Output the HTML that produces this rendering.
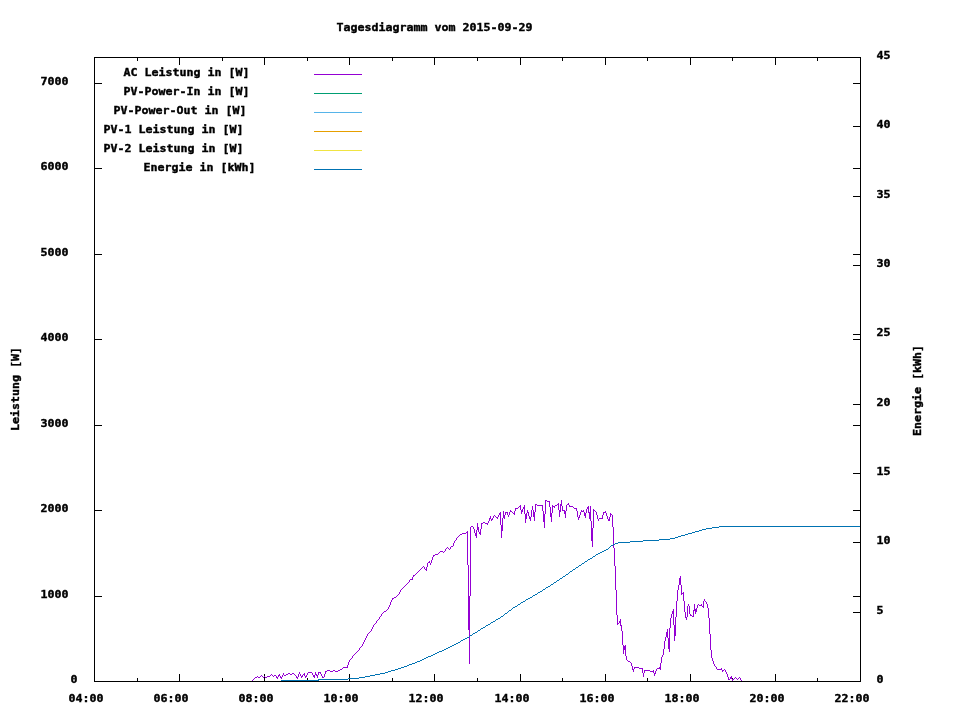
<!DOCTYPE html>
<html lang="de"><head><meta charset="utf-8"><title>Tagesdiagramm vom 2015-09-29</title>
<style>
html,body{margin:0;padding:0;background:#fff;}
body{width:960px;height:720px;overflow:hidden;}
svg{display:block;will-change:transform;}
text{font-family:"DejaVu Sans Mono", "Liberation Mono", monospace;font-weight:bold;font-size:11px;fill:#000;stroke:#000;stroke-width:0.4px;stroke-linejoin:miter;}
.ax{stroke:#000;stroke-width:1;fill:none;shape-rendering:crispEdges;}
.ln{stroke-width:1;fill:none;shape-rendering:crispEdges;stroke-linejoin:miter;}
</style></head><body>
<svg width="960" height="720" viewBox="0 0 960 720">
<rect x="0" y="0" width="960" height="720" fill="#ffffff"/>
<text x="336.6" y="31" textLength="196" lengthAdjust="spacingAndGlyphs">Tagesdiagramm vom 2015-09-29</text>
<text x="70.6" y="683" textLength="7" lengthAdjust="spacingAndGlyphs">0</text>
<text x="40.6" y="598" textLength="28" lengthAdjust="spacingAndGlyphs">1000</text>
<text x="40.6" y="512" textLength="28" lengthAdjust="spacingAndGlyphs">2000</text>
<text x="40.6" y="427" textLength="28" lengthAdjust="spacingAndGlyphs">3000</text>
<text x="40.6" y="341" textLength="28" lengthAdjust="spacingAndGlyphs">4000</text>
<text x="40.6" y="256" textLength="28" lengthAdjust="spacingAndGlyphs">5000</text>
<text x="40.6" y="170" textLength="28" lengthAdjust="spacingAndGlyphs">6000</text>
<text x="40.6" y="85" textLength="28" lengthAdjust="spacingAndGlyphs">7000</text>
<text x="876.6" y="683" textLength="7" lengthAdjust="spacingAndGlyphs">0</text>
<text x="876.6" y="614" textLength="7" lengthAdjust="spacingAndGlyphs">5</text>
<text x="876.6" y="544" textLength="14" lengthAdjust="spacingAndGlyphs">10</text>
<text x="876.6" y="475" textLength="14" lengthAdjust="spacingAndGlyphs">15</text>
<text x="876.6" y="406" textLength="14" lengthAdjust="spacingAndGlyphs">20</text>
<text x="876.6" y="336" textLength="14" lengthAdjust="spacingAndGlyphs">25</text>
<text x="876.6" y="267" textLength="14" lengthAdjust="spacingAndGlyphs">30</text>
<text x="876.6" y="198" textLength="14" lengthAdjust="spacingAndGlyphs">35</text>
<text x="876.6" y="128" textLength="14" lengthAdjust="spacingAndGlyphs">40</text>
<text x="876.6" y="59" textLength="14" lengthAdjust="spacingAndGlyphs">45</text>
<text x="68.6" y="702" textLength="35" lengthAdjust="spacingAndGlyphs">04:00</text>
<text x="153.6" y="702" textLength="35" lengthAdjust="spacingAndGlyphs">06:00</text>
<text x="238.6" y="702" textLength="35" lengthAdjust="spacingAndGlyphs">08:00</text>
<text x="323.6" y="702" textLength="35" lengthAdjust="spacingAndGlyphs">10:00</text>
<text x="408.6" y="702" textLength="35" lengthAdjust="spacingAndGlyphs">12:00</text>
<text x="494.6" y="702" textLength="35" lengthAdjust="spacingAndGlyphs">14:00</text>
<text x="579.6" y="702" textLength="35" lengthAdjust="spacingAndGlyphs">16:00</text>
<text x="664.6" y="702" textLength="35" lengthAdjust="spacingAndGlyphs">18:00</text>
<text x="749.6" y="702" textLength="35" lengthAdjust="spacingAndGlyphs">20:00</text>
<text x="834.6" y="702" textLength="35" lengthAdjust="spacingAndGlyphs">22:00</text>
<text transform="translate(19,431) rotate(-90)" x="0" y="0" textLength="84" lengthAdjust="spacingAndGlyphs">Leistung [W]</text>
<text transform="translate(921,436) rotate(-90)" x="0" y="0" textLength="91" lengthAdjust="spacingAndGlyphs">Energie [kWh]</text>
<text x="123.6" y="76" textLength="126" lengthAdjust="spacingAndGlyphs">AC Leistung in [W]</text>
<path class="ln" stroke="#9400d3" d="M314 74.5 H362"/>
<text x="123.6" y="95" textLength="126" lengthAdjust="spacingAndGlyphs">PV-Power-In in [W]</text>
<path class="ln" stroke="#009e73" d="M314 93.5 H362"/>
<text x="113.6" y="114" textLength="133" lengthAdjust="spacingAndGlyphs">PV-Power-Out in [W]</text>
<path class="ln" stroke="#56b4e9" d="M314 112.5 H362"/>
<text x="103.6" y="133" textLength="140" lengthAdjust="spacingAndGlyphs">PV-1 Leistung in [W]</text>
<path class="ln" stroke="#e69f00" d="M314 131.5 H362"/>
<text x="103.6" y="152" textLength="140" lengthAdjust="spacingAndGlyphs">PV-2 Leistung in [W]</text>
<path class="ln" stroke="#f0e442" d="M314 150.5 H362"/>
<text x="143.6" y="171" textLength="112" lengthAdjust="spacingAndGlyphs">Energie in [kWh]</text>
<path class="ln" stroke="#0072b2" d="M314 169.5 H362"/>
<path class="ax" d="M94.5 681.5 v-7.5 M94.5 57.5 v7.5 M137.5 681.5 v-3.5 M137.5 57.5 v3.5 M179.5 681.5 v-7.5 M179.5 57.5 v7.5 M222.5 681.5 v-3.5 M222.5 57.5 v3.5 M264.5 681.5 v-7.5 M264.5 57.5 v7.5 M307.5 681.5 v-3.5 M307.5 57.5 v3.5 M349.5 681.5 v-7.5 M349.5 57.5 v7.5 M392.5 681.5 v-3.5 M392.5 57.5 v3.5 M434.5 681.5 v-7.5 M434.5 57.5 v7.5 M477.5 681.5 v-3.5 M477.5 57.5 v3.5 M520.5 681.5 v-7.5 M520.5 57.5 v7.5 M562.5 681.5 v-3.5 M562.5 57.5 v3.5 M605.5 681.5 v-7.5 M605.5 57.5 v7.5 M647.5 681.5 v-3.5 M647.5 57.5 v3.5 M690.5 681.5 v-7.5 M690.5 57.5 v7.5 M732.5 681.5 v-3.5 M732.5 57.5 v3.5 M775.5 681.5 v-7.5 M775.5 57.5 v7.5 M817.5 681.5 v-3.5 M817.5 57.5 v3.5 M860.5 681.5 v-7.5 M860.5 57.5 v7.5 M94.5 681.5 h7.5 M860.5 681.5 h-7.5 M94.5 596.5 h7.5 M860.5 596.5 h-7.5 M94.5 510.5 h7.5 M860.5 510.5 h-7.5 M94.5 425.5 h7.5 M860.5 425.5 h-7.5 M94.5 339.5 h7.5 M860.5 339.5 h-7.5 M94.5 254.5 h7.5 M860.5 254.5 h-7.5 M94.5 168.5 h7.5 M860.5 168.5 h-7.5 M94.5 83.5 h7.5 M860.5 83.5 h-7.5 M860.5 681.5 h-7.5 M860.5 612.5 h-7.5 M860.5 542.5 h-7.5 M860.5 473.5 h-7.5 M860.5 404.5 h-7.5 M860.5 334.5 h-7.5 M860.5 265.5 h-7.5 M860.5 196.5 h-7.5 M860.5 126.5 h-7.5 M860.5 57.5 h-7.5"/>
<path fill="#9400d3" stroke="none" shape-rendering="crispEdges" d="M252 680h1v1h-1zM253 679h1v1h-1zM254 678h1v1h-1zM255 677h1v1h-1zM256 677h1v1h-1zM257 676h1v1h-1zM258 677h1v1h-1zM259 677h1v1h-1zM260 676h1v1h-1zM261 675h1v1h-1zM262 676h1v1h-1zM263 677h1v1h-1zM264 676h1v1h-1zM265 677h1v1h-1zM266 677h1v1h-1zM267 676h1v1h-1zM268 676h1v1h-1zM269 676h1v1h-1zM270 675h1v1h-1zM271 674h1v1h-1zM272 675h1v1h-1zM273 676h1v1h-1zM274 675h1v1h-1zM275 675h1v1h-1zM276 676h1v2h-1zM277 677h1v2h-1zM278 675h1v2h-1zM279 674h1v2h-1zM280 676h1v2h-1zM281 677h1v2h-1zM282 675h1v2h-1zM283 673h1v2h-1zM284 675h1v1h-1zM285 675h1v1h-1zM286 674h1v1h-1zM287 674h1v1h-1zM288 673h1v1h-1zM289 673h1v1h-1zM290 674h1v1h-1zM291 674h1v1h-1zM292 673h1v1h-1zM293 673h1v1h-1zM294 674h1v1h-1zM295 675h1v1h-1zM296 676h1v2h-1zM297 677h1v2h-1zM298 674h1v3h-1zM299 672h1v2h-1zM300 674h1v2h-1zM301 676h1v2h-1zM302 675h1v2h-1zM303 674h1v1h-1zM304 673h1v3h-1zM305 676h1v2h-1zM306 675h1v2h-1zM307 673h1v2h-1zM308 672h1v1h-1zM309 672h1v1h-1zM310 672h1v1h-1zM311 672h1v1h-1zM312 673h1v2h-1zM313 675h1v2h-1zM314 675h1v3h-1zM315 672h1v3h-1zM316 674h1v2h-1zM317 675h1v3h-1zM318 672h1v3h-1zM319 672h1v1h-1zM320 672h1v2h-1zM321 674h1v2h-1zM322 676h1v2h-1zM323 677h1v1h-1zM324 674h1v3h-1zM325 671h1v3h-1zM326 671h1v1h-1zM327 670h1v1h-1zM328 670h1v1h-1zM329 670h1v1h-1zM330 671h1v1h-1zM331 671h1v1h-1zM332 671h1v1h-1zM333 670h1v1h-1zM334 670h1v1h-1zM335 671h1v1h-1zM336 671h1v1h-1zM337 671h1v1h-1zM338 670h1v1h-1zM339 670h1v1h-1zM340 669h1v1h-1zM341 669h1v1h-1zM342 668h1v1h-1zM343 667h1v1h-1zM344 667h1v1h-1zM345 667h1v1h-1zM346 667h1v1h-1zM347 665h1v3h-1zM348 662h1v3h-1zM349 660h1v2h-1zM350 659h1v1h-1zM351 658h1v1h-1zM352 656h1v2h-1zM353 655h1v1h-1zM354 654h1v1h-1zM355 653h1v1h-1zM356 652h1v1h-1zM357 651h1v1h-1zM358 650h1v1h-1zM359 648h1v2h-1zM360 647h1v1h-1zM361 646h1v1h-1zM362 644h1v2h-1zM363 642h1v2h-1zM364 640h1v2h-1zM365 638h1v2h-1zM366 636h1v2h-1zM367 634h1v2h-1zM368 633h1v1h-1zM369 632h1v1h-1zM370 631h1v1h-1zM371 629h1v2h-1zM372 627h1v2h-1zM373 625h1v2h-1zM374 624h1v1h-1zM375 623h1v1h-1zM376 621h1v2h-1zM377 620h1v1h-1zM378 619h1v1h-1zM379 617h1v2h-1zM380 616h1v1h-1zM381 614h1v2h-1zM382 613h1v1h-1zM383 612h1v1h-1zM384 611h1v1h-1zM385 611h1v1h-1zM386 610h1v1h-1zM387 609h1v1h-1zM388 607h1v2h-1zM389 605h1v2h-1zM390 602h1v3h-1zM391 600h1v2h-1zM392 598h1v2h-1zM393 598h1v1h-1zM394 597h1v1h-1zM395 597h1v1h-1zM396 596h1v1h-1zM397 595h1v1h-1zM398 594h1v1h-1zM399 592h1v2h-1zM400 590h1v2h-1zM401 589h1v1h-1zM402 588h1v1h-1zM403 587h1v1h-1zM404 586h1v1h-1zM405 585h1v1h-1zM406 584h1v1h-1zM407 583h1v1h-1zM408 582h1v1h-1zM409 580h1v2h-1zM410 579h1v1h-1zM411 579h1v1h-1zM412 577h1v3h-1zM413 575h1v2h-1zM414 575h1v1h-1zM415 574h1v1h-1zM416 573h1v1h-1zM417 572h1v1h-1zM418 571h1v1h-1zM419 570h1v1h-1zM420 569h1v1h-1zM421 568h1v1h-1zM422 567h1v1h-1zM423 566h1v1h-1zM424 567h1v2h-1zM425 569h1v1h-1zM426 567h1v4h-1zM427 563h1v4h-1zM428 562h1v1h-1zM429 561h1v2h-1zM430 563h1v2h-1zM431 560h1v3h-1zM432 557h1v3h-1zM433 555h1v2h-1zM434 555h1v1h-1zM435 554h1v1h-1zM436 554h1v1h-1zM437 554h1v1h-1zM438 553h1v1h-1zM439 552h1v1h-1zM440 551h1v1h-1zM441 551h1v1h-1zM442 551h1v1h-1zM443 552h1v1h-1zM444 551h1v1h-1zM445 549h1v2h-1zM446 548h1v1h-1zM447 547h1v1h-1zM448 548h1v1h-1zM449 549h1v1h-1zM450 547h1v2h-1zM451 546h1v1h-1zM452 546h1v1h-1zM453 543h1v3h-1zM454 541h1v2h-1zM455 540h1v1h-1zM456 538h1v2h-1zM457 537h1v1h-1zM458 536h1v1h-1zM459 535h1v1h-1zM460 534h1v1h-1zM461 534h1v1h-1zM462 533h1v1h-1zM463 533h1v1h-1zM464 533h1v1h-1zM465 533h1v1h-1zM466 532h1v1h-1zM467 531h1v34h-1zM468 565h1v65h-1zM469 596h1v68h-1zM470 527h1v69h-1zM471 526h1v1h-1zM472 526h1v1h-1zM473 527h1v2h-1zM474 529h1v4h-1zM475 533h1v3h-1zM476 530h1v8h-1zM477 523h1v7h-1zM478 527h1v5h-1zM479 532h1v2h-1zM480 529h1v6h-1zM481 523h1v6h-1zM482 523h1v1h-1zM483 522h1v1h-1zM484 522h1v1h-1zM485 523h1v1h-1zM486 523h1v1h-1zM487 523h1v2h-1zM488 521h1v2h-1zM489 518h1v3h-1zM490 516h1v3h-1zM491 519h1v2h-1zM492 518h1v2h-1zM493 516h1v2h-1zM494 515h1v1h-1zM495 516h1v1h-1zM496 517h1v1h-1zM497 517h1v2h-1zM498 515h1v2h-1zM499 513h1v2h-1zM500 512h1v13h-1zM501 525h1v13h-1zM502 518h1v13h-1zM503 511h1v7h-1zM504 515h1v4h-1zM505 512h1v3h-1zM506 512h1v1h-1zM507 512h1v3h-1zM508 515h1v2h-1zM509 512h1v3h-1zM510 510h1v2h-1zM511 511h1v1h-1zM512 512h1v1h-1zM513 513h1v1h-1zM514 511h1v4h-1zM515 508h1v3h-1zM516 508h1v1h-1zM517 508h1v1h-1zM518 507h1v1h-1zM519 506h1v1h-1zM520 505h1v5h-1zM521 510h1v4h-1zM522 509h1v3h-1zM523 507h1v2h-1zM524 505h1v9h-1zM525 514h1v9h-1zM526 513h1v6h-1zM527 510h1v3h-1zM528 512h1v4h-1zM529 516h1v3h-1zM530 517h1v4h-1zM531 510h1v7h-1zM532 506h1v4h-1zM533 510h1v7h-1zM534 512h1v9h-1zM535 504h1v8h-1zM536 504h1v1h-1zM537 505h1v1h-1zM538 505h1v1h-1zM539 505h1v1h-1zM540 505h1v1h-1zM541 505h1v1h-1zM542 505h1v6h-1zM543 511h1v11h-1zM544 514h1v14h-1zM545 500h1v14h-1zM546 500h1v1h-1zM547 501h1v1h-1zM548 501h1v1h-1zM549 501h1v6h-1zM550 507h1v10h-1zM551 513h1v9h-1zM552 505h1v8h-1zM553 506h1v1h-1zM554 506h1v2h-1zM555 505h1v1h-1zM556 505h1v1h-1zM557 504h1v1h-1zM558 503h1v7h-1zM559 510h1v7h-1zM560 504h1v8h-1zM561 500h1v6h-1zM562 506h1v5h-1zM563 510h1v1h-1zM564 510h1v4h-1zM565 511h1v7h-1zM566 505h1v6h-1zM567 504h1v1h-1zM568 503h1v2h-1zM569 505h1v2h-1zM570 506h1v1h-1zM571 506h1v1h-1zM572 506h1v1h-1zM573 507h1v1h-1zM574 508h1v1h-1zM575 508h1v1h-1zM576 508h1v3h-1zM577 511h1v6h-1zM578 517h1v3h-1zM579 515h1v3h-1zM580 512h1v3h-1zM581 510h1v2h-1zM582 511h1v1h-1zM583 510h1v2h-1zM584 512h1v4h-1zM585 513h1v5h-1zM586 509h1v4h-1zM587 507h1v2h-1zM588 506h1v7h-1zM589 512h1v7h-1zM590 506h1v15h-1zM591 521h1v20h-1zM592 528h1v19h-1zM593 509h1v19h-1zM594 510h1v1h-1zM595 511h1v1h-1zM596 512h1v3h-1zM597 515h1v4h-1zM598 519h1v2h-1zM599 518h1v1h-1zM600 518h1v1h-1zM601 518h1v1h-1zM602 515h1v4h-1zM603 512h1v3h-1zM604 512h1v1h-1zM605 511h1v2h-1zM606 513h1v3h-1zM607 516h1v3h-1zM608 519h1v2h-1zM609 517h1v4h-1zM610 513h1v4h-1zM611 514h1v1h-1zM612 515h1v12h-1zM613 527h1v21h-1zM614 548h1v18h-1zM615 566h1v24h-1zM616 590h1v25h-1zM617 615h1v10h-1zM618 623h1v1h-1zM619 621h1v2h-1zM620 619h1v7h-1zM621 625h1v6h-1zM622 631h1v14h-1zM623 645h1v9h-1zM624 646h1v4h-1zM625 645h1v11h-1zM626 656h1v4h-1zM627 660h1v1h-1zM628 661h1v1h-1zM629 661h1v1h-1zM630 662h1v1h-1zM631 663h1v3h-1zM632 666h1v4h-1zM633 669h1v3h-1zM634 667h1v2h-1zM635 667h1v1h-1zM636 667h1v1h-1zM637 667h1v1h-1zM638 667h1v1h-1zM639 668h1v1h-1zM640 668h1v1h-1zM641 668h1v1h-1zM642 668h1v5h-1zM643 673h1v4h-1zM644 670h1v3h-1zM645 670h1v1h-1zM646 670h1v1h-1zM647 670h1v1h-1zM648 670h1v1h-1zM649 670h1v1h-1zM650 671h1v1h-1zM651 671h1v1h-1zM652 671h1v1h-1zM653 670h1v3h-1zM654 673h1v3h-1zM655 671h1v3h-1zM656 669h1v2h-1zM657 668h1v1h-1zM658 668h1v1h-1zM659 667h1v2h-1zM660 663h1v7h-1zM661 657h1v6h-1zM662 655h1v2h-1zM663 649h1v6h-1zM664 641h1v8h-1zM665 637h1v4h-1zM666 632h1v5h-1zM667 629h1v9h-1zM668 638h1v11h-1zM669 628h1v24h-1zM670 618h1v10h-1zM671 614h1v4h-1zM672 611h1v3h-1zM673 609h1v16h-1zM674 625h1v16h-1zM675 617h1v19h-1zM676 601h1v16h-1zM677 590h1v11h-1zM678 585h1v5h-1zM679 578h1v7h-1zM680 576h1v9h-1zM681 585h1v10h-1zM682 593h1v1h-1zM683 592h1v9h-1zM684 601h1v11h-1zM685 612h1v6h-1zM686 617h1v3h-1zM687 606h1v11h-1zM688 604h1v2h-1zM689 606h1v8h-1zM690 614h1v2h-1zM691 615h1v1h-1zM692 616h1v1h-1zM693 610h1v7h-1zM694 604h1v7h-1zM695 609h1v5h-1zM696 608h1v4h-1zM697 605h1v3h-1zM698 604h1v1h-1zM699 605h1v1h-1zM700 605h1v1h-1zM701 604h1v2h-1zM702 606h1v1h-1zM703 601h1v7h-1zM704 599h1v2h-1zM705 601h1v1h-1zM706 602h1v2h-1zM707 604h1v4h-1zM708 608h1v10h-1zM709 618h1v16h-1zM710 634h1v16h-1zM711 650h1v8h-1zM712 658h1v3h-1zM713 661h1v3h-1zM714 664h1v2h-1zM715 666h1v1h-1zM716 667h1v2h-1zM717 669h1v1h-1zM718 669h1v1h-1zM719 669h1v1h-1zM720 669h1v1h-1zM721 668h1v2h-1zM722 670h1v2h-1zM723 670h1v1h-1zM724 669h1v1h-1zM725 670h1v2h-1zM726 672h1v2h-1zM727 674h1v3h-1zM728 677h1v3h-1zM729 679h1v1h-1zM730 677h1v2h-1zM731 676h1v3h-1zM732 679h1v2h-1zM733 679h1v1h-1zM734 678h1v1h-1zM735 677h1v1h-1zM736 678h1v1h-1zM737 679h1v1h-1zM738 678h1v1h-1zM739 677h1v1h-1zM740 678h1v2h-1zM741 680h1v1h-1z"/>
<path fill="#0072b2" stroke="none" shape-rendering="crispEdges" d="M719 526v1h142v-1zM712 527v1h7v-1zM706 528v1h6v-1zM702 529v1h4v-1zM699 530v1h3v-1zM695 531v1h4v-1zM692 532v1h3v-1zM688 533v1h4v-1zM685 534v1h3v-1zM681 535v1h4v-1zM678 536v1h3v-1zM675 537v1h3v-1zM670 538v1h5v-1zM659 539v1h11v-1zM643 540v1h16v-1zM630 541v1h13v-1zM618 542v1h12v-1zM615 543v1h3v-1zM613 544v1h2v-1zM611 545v1h2v-1zM610 546v1h1v-1zM609 547v1h1v-1zM608 548v1h1v-1zM606 549v1h2v-1zM604 550v1h2v-1zM602 551v1h2v-1zM600 552v1h2v-1zM598 553v1h2v-1zM596 554v1h2v-1zM595 555v1h1v-1zM593 556v1h2v-1zM592 557v1h1v-1zM590 558v1h2v-1zM588 559v1h2v-1zM587 560v1h1v-1zM585 561v1h2v-1zM584 562v1h1v-1zM582 563v1h2v-1zM581 564v1h1v-1zM579 565v1h2v-1zM578 566v1h1v-1zM576 567v1h2v-1zM575 568v1h1v-1zM573 569v1h2v-1zM572 570v1h1v-1zM570 571v1h2v-1zM569 572v1h1v-1zM568 573v1h1v-1zM566 574v1h2v-1zM565 575v1h1v-1zM563 576v1h2v-1zM562 577v1h1v-1zM560 578v1h2v-1zM559 579v1h1v-1zM557 580v1h2v-1zM556 581v1h1v-1zM554 582v1h2v-1zM553 583v1h1v-1zM551 584v1h2v-1zM550 585v1h1v-1zM548 586v1h2v-1zM546 587v1h2v-1zM545 588v1h1v-1zM543 589v1h2v-1zM542 590v1h1v-1zM540 591v1h2v-1zM538 592v1h2v-1zM537 593v1h1v-1zM535 594v1h2v-1zM533 595v1h2v-1zM532 596v1h1v-1zM530 597v1h2v-1zM528 598v1h2v-1zM526 599v1h2v-1zM525 600v1h1v-1zM523 601v1h2v-1zM521 602v1h2v-1zM520 603v1h1v-1zM518 604v1h2v-1zM517 605v1h1v-1zM515 606v1h2v-1zM513 607v1h2v-1zM512 608v1h1v-1zM511 609v1h1v-1zM509 610v1h2v-1zM508 611v1h1v-1zM507 612v1h1v-1zM505 613v1h2v-1zM504 614v1h1v-1zM503 615v1h1v-1zM501 616v1h2v-1zM500 617v1h1v-1zM498 618v1h2v-1zM496 619v1h2v-1zM495 620v1h1v-1zM493 621v1h2v-1zM491 622v1h2v-1zM490 623v1h1v-1zM488 624v1h2v-1zM486 625v1h2v-1zM485 626v1h1v-1zM483 627v1h2v-1zM481 628v1h2v-1zM480 629v1h1v-1zM478 630v1h2v-1zM477 631v1h1v-1zM475 632v1h2v-1zM473 633v1h2v-1zM472 634v1h1v-1zM470 635v1h2v-1zM469 636v1h1v-1zM467 637v1h2v-1zM465 638v1h2v-1zM463 639v1h2v-1zM461 640v1h2v-1zM460 641v1h1v-1zM458 642v1h2v-1zM456 643v1h2v-1zM454 644v1h2v-1zM452 645v1h2v-1zM450 646v1h2v-1zM448 647v1h2v-1zM446 648v1h2v-1zM444 649v1h2v-1zM442 650v1h2v-1zM439 651v1h3v-1zM437 652v1h2v-1zM435 653v1h2v-1zM433 654v1h2v-1zM431 655v1h2v-1zM428 656v1h3v-1zM426 657v1h2v-1zM424 658v1h2v-1zM422 659v1h2v-1zM420 660v1h2v-1zM417 661v1h3v-1zM415 662v1h2v-1zM412 663v1h3v-1zM409 664v1h3v-1zM407 665v1h2v-1zM404 666v1h3v-1zM401 667v1h3v-1zM398 668v1h3v-1zM395 669v1h3v-1zM391 670v1h4v-1zM388 671v1h3v-1zM385 672v1h3v-1zM380 673v1h5v-1zM375 674v1h5v-1zM370 675v1h5v-1zM365 676v1h5v-1zM359 677v1h6v-1zM348 678v1h11v-1zM318 679v1h30v-1zM281 680v1h38v-1z"/>
<rect class="ax" x="94.5" y="57.5" width="766" height="624"/>
</svg>
</body></html>
